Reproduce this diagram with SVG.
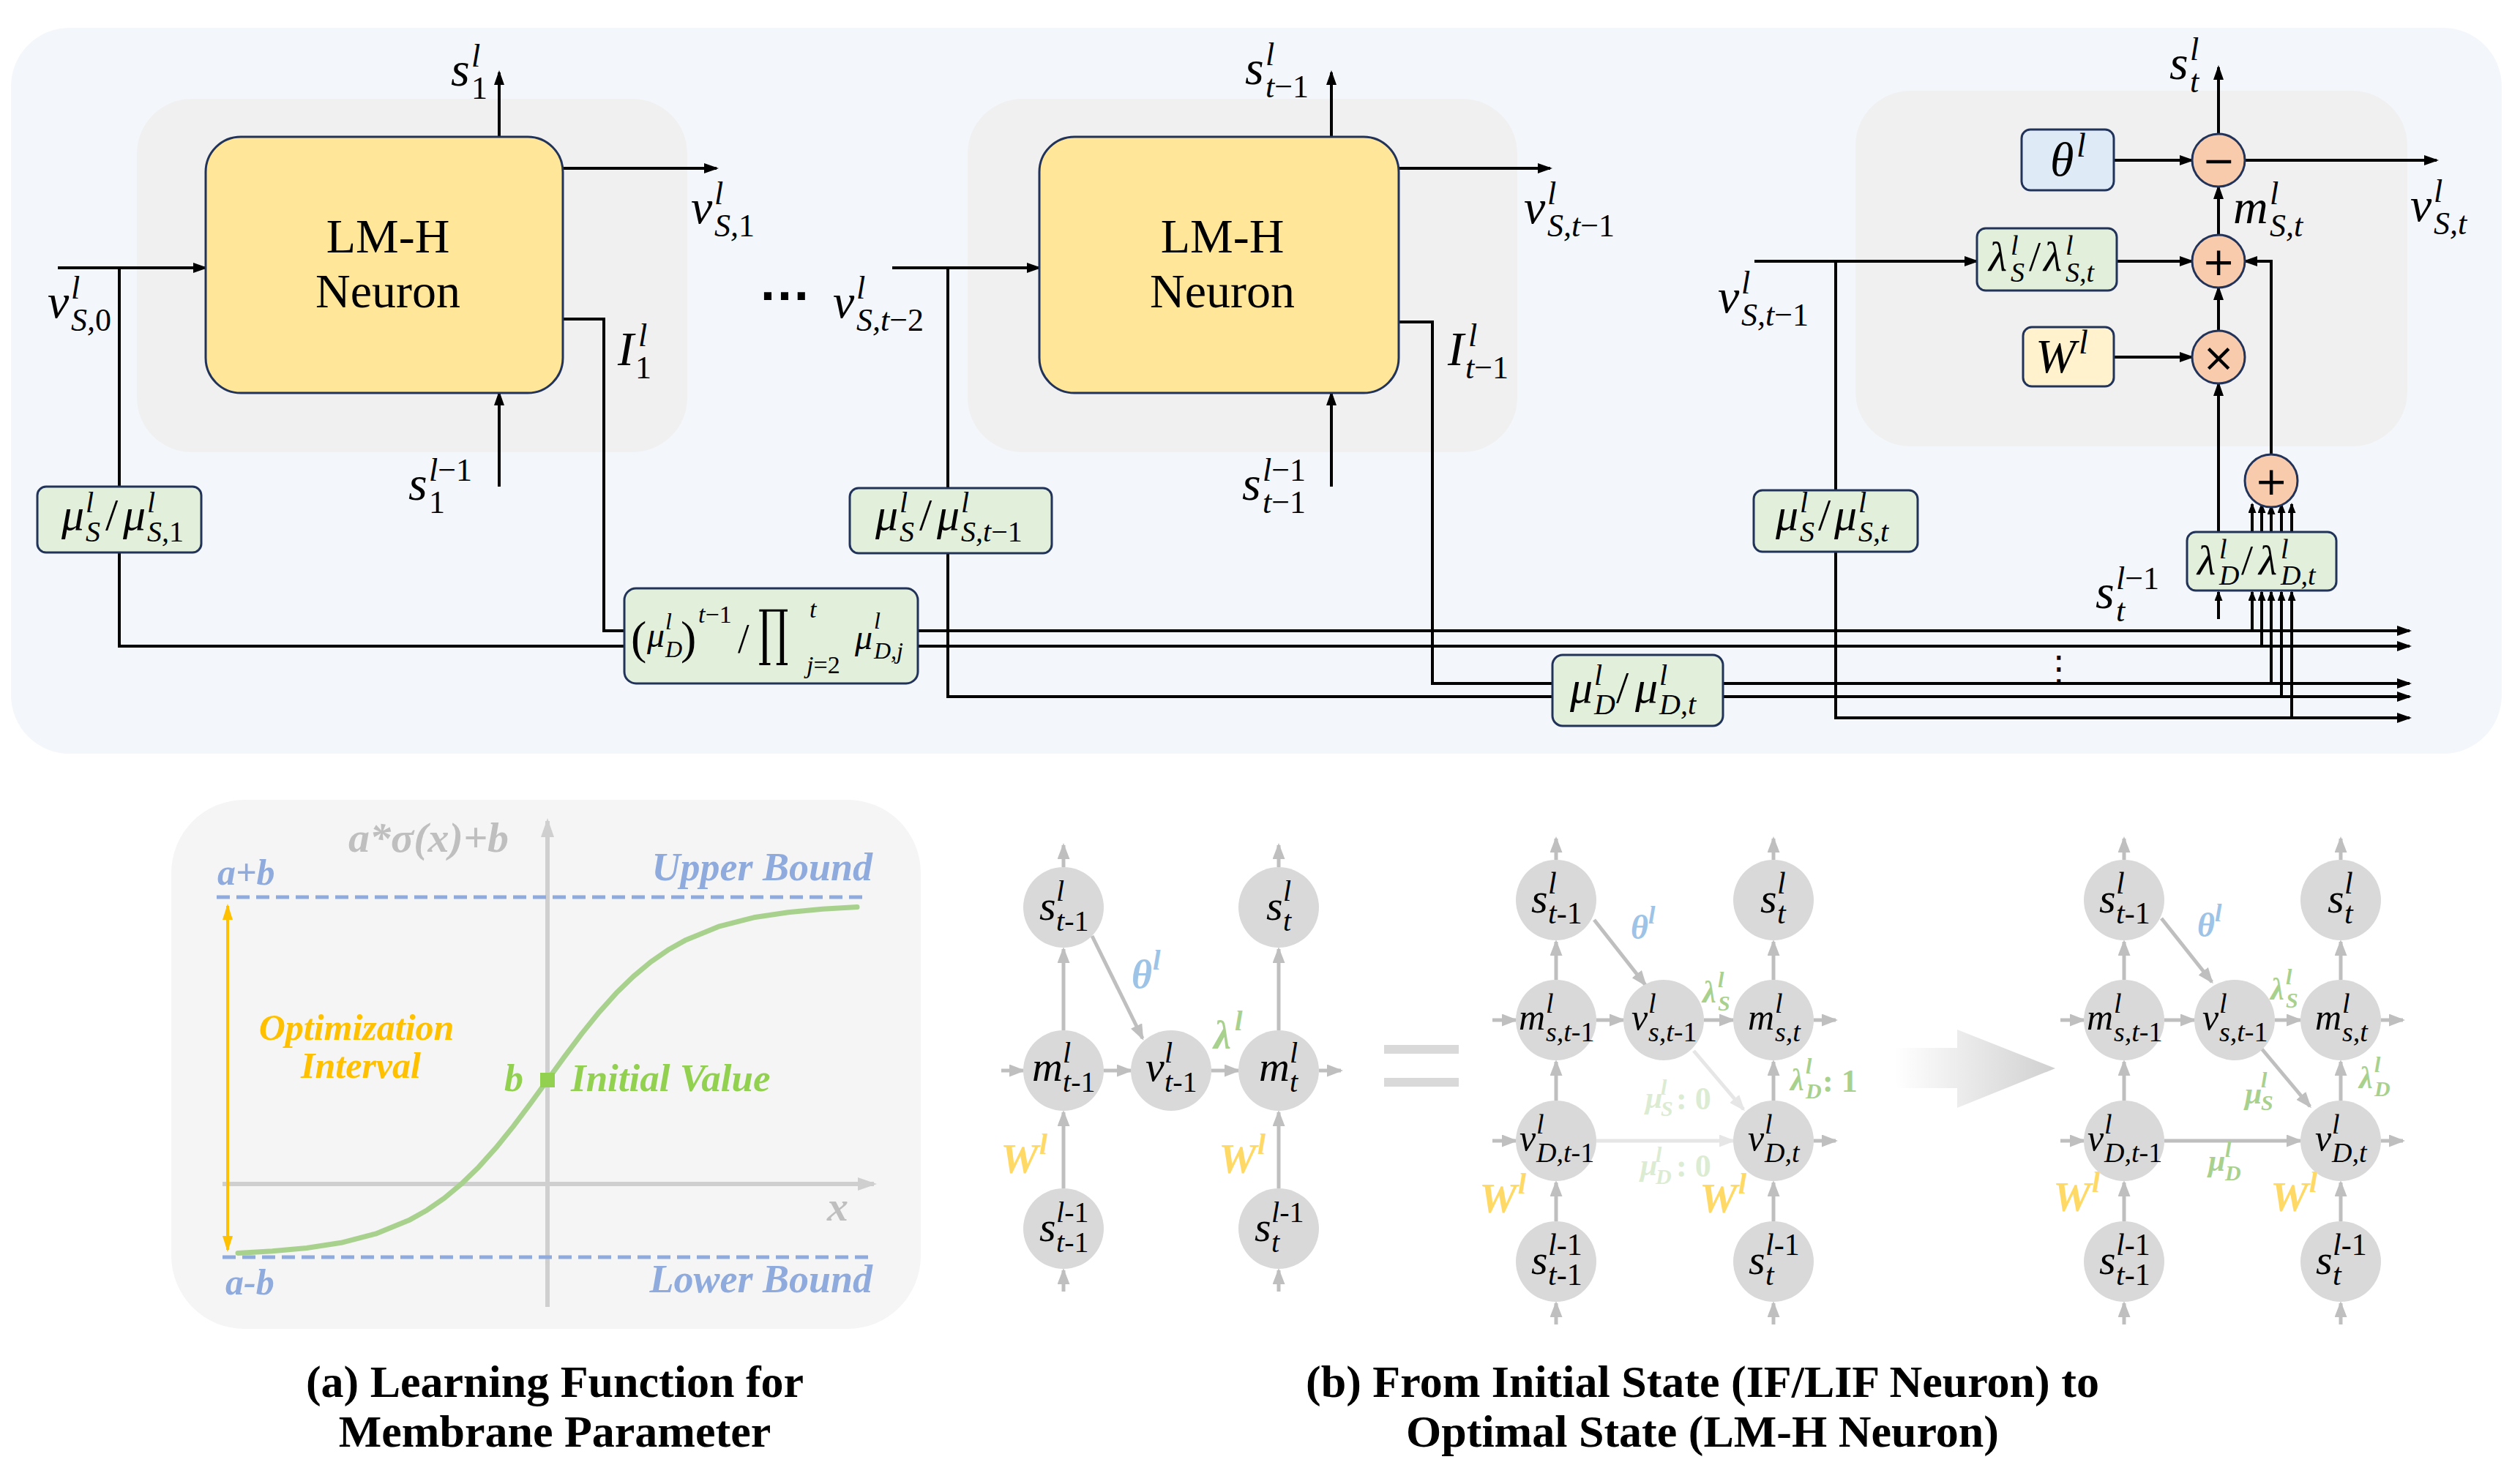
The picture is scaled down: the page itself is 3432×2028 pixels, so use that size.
<svg xmlns="http://www.w3.org/2000/svg" width="3432" height="2028" viewBox="0 0 3432 2028">
<defs>
<style>
.m{font-family:"Liberation Serif",serif;font-style:italic;fill:#000}
.u{font-style:normal}
.ln{stroke:#000;stroke-width:4;fill:none}
.ga{stroke:#bfbfbf;stroke-width:5;fill:none}
.fa{stroke:#e6e6e6;stroke-width:5;fill:none}
.ybox{fill:#ffe699;stroke:#22335a;stroke-width:3}
.gbox{fill:#e2efda;stroke:#22335a;stroke-width:3}
.bbox{fill:#deebf7;stroke:#22335a;stroke-width:3}
.wbox{fill:#fff2cc;stroke:#22335a;stroke-width:3}
.op{fill:#f8cbad;stroke:#22335a;stroke-width:3}
.opt{font-family:"DejaVu Sans",sans-serif;font-size:54px;text-anchor:middle;fill:#000}
.nd{fill:#d9d9d9}
.inner{fill:#f0f0f0}
.cap{font-family:"Liberation Serif",serif;font-weight:bold;font-size:62px;text-anchor:middle;fill:#000}
.ax{stroke:#cfcfcf;stroke-width:6;fill:none}
.ea{font-family:"Liberation Serif",serif;font-style:italic;font-weight:bold}
.lm{font-family:"Liberation Serif",serif;font-size:66px;text-anchor:middle;fill:#000}
.blue{fill:#9dc3e6}
.grn{fill:#a9d18e}
.fgr{fill:#dcecd2}
.yel{fill:#ffd966}
</style>
<marker id="ab" markerUnits="userSpaceOnUse" markerWidth="20" markerHeight="14" viewBox="0 0 20 14" refX="17" refY="7" orient="auto"><path d="M0,0L20,7L0,14z" fill="#000"/></marker>
<marker id="abs" markerUnits="userSpaceOnUse" markerWidth="14" markerHeight="11" viewBox="0 0 14 11" refX="12" refY="5.5" orient="auto"><path d="M0,0L14,5.5L0,11z" fill="#000"/></marker>
<marker id="ag" markerUnits="userSpaceOnUse" markerWidth="22" markerHeight="17" viewBox="0 0 22 17" refX="19" refY="8.5" orient="auto"><path d="M0,0L22,8.5L0,17z" fill="#bfbfbf"/></marker>
<marker id="af" markerUnits="userSpaceOnUse" markerWidth="22" markerHeight="17" viewBox="0 0 22 17" refX="19" refY="8.5" orient="auto"><path d="M0,0L22,8.5L0,17z" fill="#e6e6e6"/></marker>
<marker id="aax" markerUnits="userSpaceOnUse" markerWidth="26" markerHeight="18" viewBox="0 0 26 18" refX="22" refY="9" orient="auto"><path d="M0,0L26,9L0,18z" fill="#cfcfcf"/></marker>
<marker id="ao" markerUnits="userSpaceOnUse" markerWidth="22" markerHeight="14" viewBox="0 0 22 14" refX="19" refY="7" orient="auto-start-reverse"><path d="M0,0L22,7L0,14z" fill="#ffc000"/></marker>
<linearGradient id="gg" x1="2589" y1="0" x2="2808" y2="0" gradientUnits="userSpaceOnUse"><stop offset="0" stop-color="#ffffff"/><stop offset="1" stop-color="#d0d0d0"/></linearGradient>
</defs>

<rect width="3432" height="2028" fill="#ffffff"/>

<!-- top panel backgrounds -->
<g id="top-panel">
<rect x="15" y="38" width="3403" height="992" rx="80" fill="#f3f6fa"/>
<rect class="inner" x="187" y="135" width="752" height="483" rx="75"/>
<rect class="inner" x="1322" y="135" width="751" height="483" rx="75"/>
<rect class="inner" x="2535" y="124" width="754" height="486" rx="75"/>
</g>

<!-- connectors -->
<g id="connectors">
<path class="ln" d="M682,187V99" marker-end="url(#ab)"/>
<path class="ln" d="M769,230H979" marker-end="url(#ab)"/>
<path class="ln" d="M79,366H281" marker-end="url(#ab)"/>
<path class="ln" d="M163,366V665"/>
<path class="ln" d="M163,755V883H853"/>
<path class="ln" d="M769,436H825V862H853"/>
<path class="ln" d="M682,665V537" marker-end="url(#ab)"/>

<path class="ln" d="M1819,187V99" marker-end="url(#ab)"/>
<path class="ln" d="M1911,230H2118" marker-end="url(#ab)"/>
<path class="ln" d="M1219,366H1420" marker-end="url(#ab)"/>
<path class="ln" d="M1295,366V667"/>
<path class="ln" d="M1295,756V952H2121"/>
<path class="ln" d="M1911,440H1957V934H2121"/>
<path class="ln" d="M1819,665V537" marker-end="url(#ab)"/>

<path class="ln" d="M2397,357H2701" marker-end="url(#ab)"/>
<path class="ln" d="M2508,357V670"/>
<path class="ln" d="M2508,754V981H3292" marker-end="url(#ab)"/>
<path class="ln" d="M2892,357H2995" marker-end="url(#ab)"/>
<path class="ln" d="M2888,219H2995" marker-end="url(#ab)"/>
<path class="ln" d="M3031,183V92" marker-end="url(#ab)"/>
<path class="ln" d="M3067,219H3329" marker-end="url(#ab)"/>
<path class="ln" d="M3031,321V255" marker-end="url(#ab)"/>
<path class="ln" d="M2888,488H2995" marker-end="url(#ab)"/>
<path class="ln" d="M3031,452V393" marker-end="url(#ab)"/>
<path class="ln" d="M3031,727V524" marker-end="url(#ab)"/>
<path class="ln" d="M3031,846V809" marker-end="url(#abs)"/>
<path class="ln" d="M3103,620V357H3067" marker-end="url(#ab)"/>
<path class="ln" d="M3077,727V689" marker-end="url(#abs)"/>
<path class="ln" d="M3090,727V689" marker-end="url(#abs)"/>
<path class="ln" d="M3103,727V691" marker-end="url(#abs)"/>
<path class="ln" d="M3117,727V689" marker-end="url(#abs)"/>
<path class="ln" d="M3131,727V689" marker-end="url(#abs)"/>
<path class="ln" d="M3077,862V809" marker-end="url(#abs)"/>
<path class="ln" d="M3090,883V809" marker-end="url(#abs)"/>
<path class="ln" d="M3103,934V809" marker-end="url(#abs)"/>
<path class="ln" d="M3117,952V809" marker-end="url(#abs)"/>
<path class="ln" d="M3131,981V809" marker-end="url(#abs)"/>
<path class="ln" d="M1254,862H3292" marker-end="url(#ab)"/>
<path class="ln" d="M1254,883H3292" marker-end="url(#ab)"/>
<path class="ln" d="M2354,934H3292" marker-end="url(#ab)"/>
<path class="ln" d="M2354,952H3292" marker-end="url(#ab)"/>

<!-- (b) graph 1 -->
<path class="ga" d="M1453,1185V1155" marker-end="url(#ag)"/>
<path class="ga" d="M1747,1185V1155" marker-end="url(#ag)"/>
<path class="ga" d="M1453,1408V1297" marker-end="url(#ag)"/>
<path class="ga" d="M1747,1408V1297" marker-end="url(#ag)"/>
<path class="ga" d="M1453,1624V1520" marker-end="url(#ag)"/>
<path class="ga" d="M1747,1624V1520" marker-end="url(#ag)"/>
<path class="ga" d="M1453,1765V1736" marker-end="url(#ag)"/>
<path class="ga" d="M1747,1765V1736" marker-end="url(#ag)"/>
<path class="ga" d="M1368,1463H1398" marker-end="url(#ag)"/>
<path class="ga" d="M1508,1463H1545" marker-end="url(#ag)"/>
<path class="ga" d="M1655,1463H1692" marker-end="url(#ag)"/>
<path class="ga" d="M1802,1463H1832" marker-end="url(#ag)"/>
<path class="ga" d="M1492,1279L1561,1419" marker-end="url(#ag)"/>

<!-- (b) graph 2 -->
<path class="ga" d="M2126,1175V1146" marker-end="url(#ag)"/>
<path class="ga" d="M2423,1175V1146" marker-end="url(#ag)"/>
<path class="ga" d="M2126,1339V1287" marker-end="url(#ag)"/>
<path class="ga" d="M2423,1339V1287" marker-end="url(#ag)"/>
<path class="ga" d="M2126,1504V1451" marker-end="url(#ag)"/>
<path class="ga" d="M2423,1504V1451" marker-end="url(#ag)"/>
<path class="ga" d="M2126,1669V1616" marker-end="url(#ag)"/>
<path class="ga" d="M2423,1669V1616" marker-end="url(#ag)"/>
<path class="ga" d="M2126,1810V1781" marker-end="url(#ag)"/>
<path class="ga" d="M2423,1810V1781" marker-end="url(#ag)"/>
<path class="ga" d="M2039,1394H2071" marker-end="url(#ag)"/>
<path class="ga" d="M2039,1559H2071" marker-end="url(#ag)"/>
<path class="ga" d="M2181,1394H2218" marker-end="url(#ag)"/>
<path class="ga" d="M2328,1394H2368" marker-end="url(#ag)"/>
<path class="ga" d="M2478,1394H2508" marker-end="url(#ag)"/>
<path class="ga" d="M2478,1559H2508" marker-end="url(#ag)"/>
<path class="ga" d="M2178,1257L2248,1346" marker-end="url(#ag)"/>
<path class="fa" d="M2314,1436L2382,1516" marker-end="url(#af)"/>
<path class="fa" d="M2181,1559H2368" marker-end="url(#af)"/>

<!-- (b) graph 3 -->
<path class="ga" d="M2902,1175V1146" marker-end="url(#ag)"/>
<path class="ga" d="M3198,1175V1146" marker-end="url(#ag)"/>
<path class="ga" d="M2902,1339V1287" marker-end="url(#ag)"/>
<path class="ga" d="M3198,1339V1287" marker-end="url(#ag)"/>
<path class="ga" d="M2902,1504V1451" marker-end="url(#ag)"/>
<path class="ga" d="M3198,1504V1451" marker-end="url(#ag)"/>
<path class="ga" d="M2902,1669V1616" marker-end="url(#ag)"/>
<path class="ga" d="M3198,1669V1616" marker-end="url(#ag)"/>
<path class="ga" d="M2902,1810V1781" marker-end="url(#ag)"/>
<path class="ga" d="M3198,1810V1781" marker-end="url(#ag)"/>
<path class="ga" d="M2815,1394H2847" marker-end="url(#ag)"/>
<path class="ga" d="M2815,1559H2847" marker-end="url(#ag)"/>
<path class="ga" d="M2957,1394H2998" marker-end="url(#ag)"/>
<path class="ga" d="M3108,1394H3143" marker-end="url(#ag)"/>
<path class="ga" d="M3253,1394H3283" marker-end="url(#ag)"/>
<path class="ga" d="M3253,1559H3283" marker-end="url(#ag)"/>
<path class="ga" d="M2953,1255L3022,1342" marker-end="url(#ag)"/>
<path class="ga" d="M3089,1432L3156,1512" marker-end="url(#ag)"/>
<path class="ga" d="M2957,1559H3143" marker-end="url(#ag)"/>
</g>

<!-- neuron 1 -->
<g id="neuron1">
<rect class="ybox" x="281" y="187" width="488" height="350" rx="48"/>
<text class="lm" x="530" y="345">LM-H</text>
<text class="lm" x="530" y="420">Neuron</text>
</g>
<g id="neuron2">
<rect class="ybox" x="1420" y="187" width="491" height="350" rx="48"/>
<text class="lm" x="1670" y="345">LM-H</text>
<text class="lm" x="1670" y="420">Neuron</text>
</g>

<g id="box-muS1">
<rect class="gbox" x="51" y="665" width="224" height="90" rx="12"/>
<text class="m" font-size="62" x="84" y="724">μ<tspan font-size="40" x="117" y="700">l</tspan><tspan font-size="40" x="117" y="740">S</tspan><tspan class="u" x="144" y="724">/</tspan><tspan x="168" y="724">μ</tspan><tspan font-size="40" x="201" y="700">l</tspan><tspan font-size="40" x="201" y="740">S,<tspan class="u">1</tspan></tspan></text>
</g>
<g id="box-muS-t1">
<rect class="gbox" x="1161" y="667" width="276" height="89" rx="12"/>
<text class="m" font-size="62" x="1196" y="724">μ<tspan font-size="40" x="1229" y="700">l</tspan><tspan font-size="40" x="1229" y="740">S</tspan><tspan class="u" x="1256" y="724">/</tspan><tspan x="1280" y="724">μ</tspan><tspan font-size="40" x="1313" y="700">l</tspan><tspan font-size="40" x="1313" y="740">S,t<tspan class="u">−1</tspan></tspan></text>
</g>
<g id="box-muSt">
<rect class="gbox" x="2396" y="670" width="224" height="84" rx="12"/>
<text class="m" font-size="62" x="2426" y="724">μ<tspan font-size="40" x="2459" y="700">l</tspan><tspan font-size="40" x="2459" y="740">S</tspan><tspan class="u" x="2484" y="724">/</tspan><tspan x="2506" y="724">μ</tspan><tspan font-size="40" x="2539" y="700">l</tspan><tspan font-size="40" x="2539" y="740">S,t</tspan></text>
</g>
<g id="box-prod">
<rect class="gbox" x="853" y="804" width="401" height="130" rx="16"/>
<text class="m" font-size="48" x="862" y="893"><tspan class="u" font-size="64">(</tspan><tspan x="884" y="884">μ</tspan><tspan font-size="32" x="909" y="860">l</tspan><tspan font-size="32" x="909" y="898">D</tspan><tspan class="u" font-size="64" x="930" y="893">)</tspan><tspan font-size="34" x="954" y="851">t<tspan class="u">−1</tspan></tspan><tspan class="u" font-size="56" x="1008" y="892">/</tspan></text>
<text font-family="DejaVu Serif, serif" font-size="84" transform="translate(1036,893) scale(0.62,1)">∏</text>
<text class="m" font-size="34" x="1106" y="844">t</text>
<text class="m" font-size="34" x="1102" y="920">j<tspan class="u">=2</tspan></text>
<text class="m" font-size="48" x="1168" y="887">μ<tspan font-size="32" x="1194" y="859">l</tspan><tspan font-size="32" x="1194" y="900">D,j</tspan></text>
</g>
<g id="box-muDt">
<rect class="gbox" x="2121" y="895" width="233" height="97" rx="14"/>
<text class="m" font-size="62" x="2145" y="960">μ<tspan font-size="40" x="2178" y="936">l</tspan><tspan font-size="40" x="2178" y="976">D</tspan><tspan class="u" x="2208" y="960">/</tspan><tspan x="2234" y="960">μ</tspan><tspan font-size="40" x="2267" y="936">l</tspan><tspan font-size="40" x="2267" y="976">D,t</tspan></text>
</g>
<g id="box-theta">
<rect class="bbox" x="2762" y="177" width="126" height="83" rx="12"/>
<text class="m" font-size="66" x="2801" y="240">θ<tspan font-size="46" x="2837" y="214">l</tspan></text>
</g>
<g id="box-W">
<rect class="wbox" x="2764" y="447" width="124" height="81" rx="12"/>
<text class="m" font-size="66" x="2781" y="509">W<tspan font-size="46" x="2840" y="483">l</tspan></text>
</g>
<g id="box-lamS">
<rect class="gbox" x="2701" y="312" width="191" height="85" rx="12"/>
<text class="m" font-size="58" x="2717" y="370">λ<tspan font-size="38" x="2747" y="348">l</tspan><tspan font-size="38" x="2747" y="385">S</tspan><tspan class="u" x="2772" y="370">/</tspan><tspan x="2792" y="370">λ</tspan><tspan font-size="38" x="2822" y="348">l</tspan><tspan font-size="38" x="2822" y="385">S,t</tspan></text>
</g>
<g id="box-lamD">
<rect class="gbox" x="2988" y="727" width="204" height="80" rx="12"/>
<text class="m" font-size="58" x="3002" y="785">λ<tspan font-size="38" x="3032" y="763">l</tspan><tspan font-size="38" x="3032" y="799">D</tspan><tspan class="u" x="3062" y="785">/</tspan><tspan x="3086" y="785">λ</tspan><tspan font-size="38" x="3116" y="763">l</tspan><tspan font-size="38" x="3116" y="799">D,t</tspan></text>
</g>
<g id="op-minus"><circle class="op" cx="3031" cy="219" r="36"/><text class="opt" x="3031" y="238">−</text></g>
<g id="op-plus1"><circle class="op" cx="3031" cy="357" r="36"/><text class="opt" x="3031" y="376">+</text></g>
<g id="op-times"><circle class="op" cx="3031" cy="488" r="36"/><text class="opt" x="3031" y="507">×</text></g>
<g id="op-plus2"><circle class="op" cx="3103" cy="657" r="36"/><text class="opt" x="3103" y="676">+</text></g>

<!-- top free labels -->
<g id="top-labels">
<text class="m" font-size="66" x="616" y="117">s<tspan font-size="44" x="644" y="91">l</tspan><tspan class="u" font-size="44" x="644" y="135">1</tspan></text>
<text class="m" font-size="66" x="944" y="305">v<tspan font-size="44" x="976" y="279">l</tspan><tspan font-size="44" x="976" y="323">S,<tspan class="u">1</tspan></tspan></text>
<text class="m" font-size="66" x="844" y="499">I<tspan font-size="44" x="872" y="473">l</tspan><tspan class="u" font-size="44" x="868" y="517">1</tspan></text>
<text class="m" font-size="66" x="558" y="683">s<tspan font-size="44" x="586" y="657">l<tspan class="u">−1</tspan></tspan><tspan class="u" font-size="44" x="586" y="701">1</tspan></text>
<text class="m" font-size="66" x="65" y="434">v<tspan font-size="44" x="97" y="408">l</tspan><tspan font-size="44" x="97" y="452">S,<tspan class="u">0</tspan></tspan></text>
<text class="m" font-size="66" x="1701" y="115">s<tspan font-size="44" x="1729" y="89">l</tspan><tspan font-size="44" x="1729" y="133">t<tspan class="u">−1</tspan></tspan></text>
<text class="m" font-size="66" x="2082" y="305">v<tspan font-size="44" x="2114" y="279">l</tspan><tspan font-size="44" x="2114" y="323">S,t<tspan class="u">−1</tspan></tspan></text>
<text class="m" font-size="66" x="1138" y="434">v<tspan font-size="44" x="1170" y="408">l</tspan><tspan font-size="44" x="1170" y="452">S,t<tspan class="u">−2</tspan></tspan></text>
<text class="m" font-size="66" x="1978" y="499">I<tspan font-size="44" x="2006" y="473">l</tspan><tspan font-size="44" x="2002" y="517">t<tspan class="u">−1</tspan></tspan></text>
<text class="m" font-size="66" x="1697" y="683">s<tspan font-size="44" x="1725" y="657">l<tspan class="u">−1</tspan></tspan><tspan font-size="44" x="1725" y="701">t<tspan class="u">−1</tspan></tspan></text>
<text class="m" font-size="66" x="2964" y="108">s<tspan font-size="44" x="2992" y="82">l</tspan><tspan font-size="44" x="2992" y="126">t</tspan></text>
<text class="m" font-size="66" x="3293" y="302">v<tspan font-size="44" x="3325" y="276">l</tspan><tspan font-size="44" x="3325" y="320">S,t</tspan></text>
<text class="m" font-size="66" x="3051" y="305">m<tspan font-size="44" x="3101" y="279">l</tspan><tspan font-size="44" x="3101" y="323">S,t</tspan></text>
<text class="m" font-size="66" x="2347" y="427">v<tspan font-size="44" x="2379" y="401">l</tspan><tspan font-size="44" x="2379" y="445">S,t<tspan class="u">−1</tspan></tspan></text>
<text class="m" font-size="66" x="2863" y="831">s<tspan font-size="44" x="2891" y="805">l<tspan class="u">−1</tspan></tspan><tspan font-size="44" x="2891" y="849">t</tspan></text>
<text font-family="Liberation Sans, sans-serif" font-weight="bold" font-size="72" text-anchor="middle" x="1072" y="410">…</text>
<text font-family="DejaVu Sans, sans-serif" font-size="48" text-anchor="middle" x="2813" y="930">⋮</text>
</g>

<!-- (a) learning function -->
<g id="panel-a">
<rect x="234" y="1093" width="1024" height="723" rx="100" fill="#f5f5f5"/>
<line class="ax" x1="748" y1="1786" x2="748" y2="1122" marker-end="url(#aax)"/>
<line class="ax" x1="304" y1="1618" x2="1194" y2="1618" marker-end="url(#aax)"/>
<line x1="296" y1="1226" x2="1181" y2="1226" stroke="#8faadc" stroke-width="5" stroke-dasharray="18 9"/>
<line x1="304" y1="1718" x2="1192" y2="1718" stroke="#8faadc" stroke-width="5" stroke-dasharray="18 9"/>
<line x1="311" y1="1238" x2="311" y2="1708" stroke="#ffc000" stroke-width="4" marker-start="url(#ao)" marker-end="url(#ao)"/>
<polyline fill="none" stroke="#a9d18e" stroke-width="7" stroke-linejoin="round" stroke-linecap="round" points="325,1712.4 372,1709.8 419,1705.5 466,1698.3 513,1686.2 560,1666.9 583.5,1653.7 607,1637.4 630.5,1617.8 654,1594.9 677.5,1568.7 701,1539.6 724.5,1508.4 748,1476 771.5,1443.6 795,1412.4 818.5,1383.3 842,1357.1 865.5,1334.2 889,1314.6 912.5,1298.3 936,1285.1 983,1265.8 1030,1253.8 1077,1246.7 1124,1242.2 1171,1239.6"/>
<rect x="738" y="1466" width="20" height="20" fill="#92d050"/>
<text class="ea" font-size="58" x="476" y="1164" fill="#bfbfbf">a*σ(x)+b</text>
<text class="ea" font-size="50" x="297" y="1209" fill="#8faadc">a+b</text>
<text class="ea" font-size="54" x="1192" y="1203" fill="#8faadc" text-anchor="end">Upper Bound</text>
<text class="ea" font-size="50" x="308" y="1769" fill="#8faadc">a-b</text>
<text class="ea" font-size="54" x="1192" y="1766" fill="#8faadc" text-anchor="end">Lower Bound</text>
<text class="ea" font-size="50" x="487" y="1421" fill="#ffc000" text-anchor="middle">Optimization</text>
<text class="ea" font-size="50" x="493" y="1473" fill="#ffc000" text-anchor="middle">Interval</text>
<text class="ea" font-size="52" x="689" y="1491" fill="#92d050">b</text>
<text class="ea" font-size="53" x="780" y="1491" fill="#92d050">Initial Value</text>
<text class="ea" font-size="58" x="1130" y="1668" fill="#bfbfbf">x</text>
<text class="cap" x="758" y="1909">(a) Learning Function for</text>
<text class="cap" x="758" y="1977">Membrane Parameter</text>
</g>

<!-- (b) graph 1 nodes -->
<g id="g1-s-t1"><circle class="nd" cx="1453" cy="1240" r="55"/><text class="m" font-size="58" x="1420" y="1257">s<tspan font-size="40" x="1443" y="1231">l</tspan><tspan font-size="40" x="1443" y="1272">t<tspan class="u">-1</tspan></tspan></text></g>
<g id="g1-s-t"><circle class="nd" cx="1747" cy="1240" r="55"/><text class="m" font-size="58" x="1730" y="1257">s<tspan font-size="40" x="1753" y="1231">l</tspan><tspan font-size="40" x="1753" y="1272">t</tspan></text></g>
<g id="g1-m-t1"><circle class="nd" cx="1453" cy="1463" r="55"/><text class="m" font-size="58" x="1410" y="1477">m<tspan font-size="40" x="1452" y="1452">l</tspan><tspan font-size="40" x="1452" y="1492">t<tspan class="u">-1</tspan></tspan></text></g>
<g id="g1-v-t1"><circle class="nd" cx="1600" cy="1463" r="55"/><text class="m" font-size="58" x="1565" y="1477">v<tspan font-size="40" x="1591" y="1452">l</tspan><tspan font-size="40" x="1591" y="1492">t<tspan class="u">-1</tspan></tspan></text></g>
<g id="g1-m-t"><circle class="nd" cx="1747" cy="1463" r="55"/><text class="m" font-size="58" x="1720" y="1477">m<tspan font-size="40" x="1762" y="1452">l</tspan><tspan font-size="40" x="1762" y="1492">t</tspan></text></g>
<g id="g1-sp-t1"><circle class="nd" cx="1453" cy="1679" r="55"/><text class="m" font-size="58" x="1420" y="1696">s<tspan font-size="40" x="1443" y="1670">l<tspan class="u">-1</tspan></tspan><tspan font-size="40" x="1443" y="1711">t<tspan class="u">-1</tspan></tspan></text></g>
<g id="g1-sp-t"><circle class="nd" cx="1747" cy="1679" r="55"/><text class="m" font-size="58" x="1714" y="1696">s<tspan font-size="40" x="1737" y="1670">l<tspan class="u">-1</tspan></tspan><tspan font-size="40" x="1737" y="1711">t</tspan></text></g>
<g id="g1-labels">
<text class="ea blue" font-size="54" x="1546" y="1350">θ<tspan font-size="38" x="1575" y="1325">l</tspan></text>
<text class="ea grn" font-size="54" x="1658" y="1433">λ<tspan font-size="38" x="1687" y="1408">l</tspan></text>
<text class="ea yel" font-size="58" x="1367" y="1603">W<tspan font-size="40" x="1420" y="1577">l</tspan></text>
<text class="ea yel" font-size="58" x="1665" y="1603">W<tspan font-size="40" x="1718" y="1577">l</tspan></text>
</g>
<g id="equals">
<rect x="1891" y="1428" width="102" height="12" fill="#d9d9d9"/>
<rect x="1891" y="1473" width="102" height="12" fill="#d9d9d9"/>
</g>

<!-- (b) graph 2 nodes -->
<g id="g2-s-t1"><circle class="nd" cx="2126" cy="1230" r="55"/><text class="m" font-size="58" x="2092" y="1247">s<tspan font-size="42" x="2115" y="1221">l</tspan><tspan font-size="42" x="2115" y="1262">t<tspan class="u">-1</tspan></tspan></text></g>
<g id="g2-s-t"><circle class="nd" cx="2423" cy="1230" r="55"/><text class="m" font-size="58" x="2405" y="1247">s<tspan font-size="42" x="2428" y="1221">l</tspan><tspan font-size="42" x="2428" y="1262">t</tspan></text></g>
<g id="g2-m-t1"><circle class="nd" cx="2126" cy="1394" r="55"/><text class="m" font-size="50" x="2075" y="1407">m<tspan font-size="38" x="2112" y="1384">l</tspan><tspan font-size="38" x="2112" y="1423">s,t<tspan class="u">-1</tspan></tspan></text></g>
<g id="g2-v-t1"><circle class="nd" cx="2273" cy="1394" r="55"/><text class="m" font-size="50" x="2229" y="1407">v<tspan font-size="38" x="2252" y="1384">l</tspan><tspan font-size="38" x="2252" y="1423">s,t<tspan class="u">-1</tspan></tspan></text></g>
<g id="g2-m-t"><circle class="nd" cx="2423" cy="1394" r="55"/><text class="m" font-size="50" x="2388" y="1407">m<tspan font-size="38" x="2425" y="1384">l</tspan><tspan font-size="38" x="2425" y="1423">s,t</tspan></text></g>
<g id="g2-vD-t1"><circle class="nd" cx="2126" cy="1559" r="55"/><text class="m" font-size="50" x="2076" y="1572">v<tspan font-size="38" x="2099" y="1549">l</tspan><tspan font-size="38" x="2099" y="1588">D,t<tspan class="u">-1</tspan></tspan></text></g>
<g id="g2-vD-t"><circle class="nd" cx="2423" cy="1559" r="55"/><text class="m" font-size="50" x="2388" y="1572">v<tspan font-size="38" x="2411" y="1549">l</tspan><tspan font-size="38" x="2411" y="1588">D,t</tspan></text></g>
<g id="g2-sp-t1"><circle class="nd" cx="2126" cy="1724" r="55"/><text class="m" font-size="58" x="2092" y="1741">s<tspan font-size="42" x="2115" y="1715">l<tspan class="u">-1</tspan></tspan><tspan font-size="42" x="2115" y="1756">t<tspan class="u">-1</tspan></tspan></text></g>
<g id="g2-sp-t"><circle class="nd" cx="2423" cy="1724" r="55"/><text class="m" font-size="58" x="2389" y="1741">s<tspan font-size="42" x="2412" y="1715">l<tspan class="u">-1</tspan></tspan><tspan font-size="42" x="2412" y="1756">t</tspan></text></g>
<g id="g2-labels">
<text class="ea blue" font-size="46" x="2228" y="1283">θ<tspan font-size="34" x="2252" y="1262">l</tspan></text>
<text class="ea grn" font-size="42" x="2326" y="1370">λ<tspan font-size="30" x="2347" y="1349">l</tspan><tspan font-size="30" x="2347" y="1381">S</tspan></text>
<text class="ea grn" font-size="42" x="2446" y="1490">λ<tspan font-size="30" x="2467" y="1467">l</tspan><tspan font-size="30" x="2467" y="1501">D</tspan><tspan class="u" font-size="44" x="2490" y="1492">: 1</tspan></text>
<text class="ea fgr" font-size="42" x="2248" y="1514">μ<tspan font-size="30" x="2269" y="1496">l</tspan><tspan font-size="30" x="2269" y="1525">S</tspan><tspan class="u" font-size="44" x="2290" y="1516">: 0</tspan></text>
<text class="ea fgr" font-size="42" x="2241" y="1606">μ<tspan font-size="30" x="2262" y="1588">l</tspan><tspan font-size="30" x="2262" y="1618">D</tspan><tspan class="u" font-size="44" x="2290" y="1608">: 0</tspan></text>
<text class="ea yel" font-size="58" x="2021" y="1657">W<tspan font-size="40" x="2074" y="1631">l</tspan></text>
<text class="ea yel" font-size="58" x="2322" y="1657">W<tspan font-size="40" x="2375" y="1631">l</tspan></text>
</g>

<!-- transition arrow -->
<g id="big-arrow"><polygon points="2589,1432 2674,1432 2674,1407 2808,1460 2674,1514 2674,1487 2589,1487" fill="url(#gg)"/></g>

<!-- (b) graph 3 nodes -->
<g id="g3-s-t1"><circle class="nd" cx="2902" cy="1230" r="55"/><text class="m" font-size="58" x="2868" y="1247">s<tspan font-size="42" x="2891" y="1221">l</tspan><tspan font-size="42" x="2891" y="1262">t<tspan class="u">-1</tspan></tspan></text></g>
<g id="g3-s-t"><circle class="nd" cx="3198" cy="1230" r="55"/><text class="m" font-size="58" x="3180" y="1247">s<tspan font-size="42" x="3203" y="1221">l</tspan><tspan font-size="42" x="3203" y="1262">t</tspan></text></g>
<g id="g3-m-t1"><circle class="nd" cx="2902" cy="1394" r="55"/><text class="m" font-size="50" x="2851" y="1407">m<tspan font-size="38" x="2888" y="1384">l</tspan><tspan font-size="38" x="2888" y="1423">s,t<tspan class="u">-1</tspan></tspan></text></g>
<g id="g3-v-t1"><circle class="nd" cx="3053" cy="1394" r="55"/><text class="m" font-size="50" x="3009" y="1407">v<tspan font-size="38" x="3032" y="1384">l</tspan><tspan font-size="38" x="3032" y="1423">s,t<tspan class="u">-1</tspan></tspan></text></g>
<g id="g3-m-t"><circle class="nd" cx="3198" cy="1394" r="55"/><text class="m" font-size="50" x="3163" y="1407">m<tspan font-size="38" x="3200" y="1384">l</tspan><tspan font-size="38" x="3200" y="1423">s,t</tspan></text></g>
<g id="g3-vD-t1"><circle class="nd" cx="2902" cy="1559" r="55"/><text class="m" font-size="50" x="2852" y="1572">v<tspan font-size="38" x="2875" y="1549">l</tspan><tspan font-size="38" x="2875" y="1588">D,t<tspan class="u">-1</tspan></tspan></text></g>
<g id="g3-vD-t"><circle class="nd" cx="3198" cy="1559" r="55"/><text class="m" font-size="50" x="3163" y="1572">v<tspan font-size="38" x="3186" y="1549">l</tspan><tspan font-size="38" x="3186" y="1588">D,t</tspan></text></g>
<g id="g3-sp-t1"><circle class="nd" cx="2902" cy="1724" r="55"/><text class="m" font-size="58" x="2868" y="1741">s<tspan font-size="42" x="2891" y="1715">l<tspan class="u">-1</tspan></tspan><tspan font-size="42" x="2891" y="1756">t<tspan class="u">-1</tspan></tspan></text></g>
<g id="g3-sp-t"><circle class="nd" cx="3198" cy="1724" r="55"/><text class="m" font-size="58" x="3164" y="1741">s<tspan font-size="42" x="3187" y="1715">l<tspan class="u">-1</tspan></tspan><tspan font-size="42" x="3187" y="1756">t</tspan></text></g>
<g id="g3-labels">
<text class="ea blue" font-size="46" x="3002" y="1280">θ<tspan font-size="34" x="3026" y="1259">l</tspan></text>
<text class="ea grn" font-size="42" x="3102" y="1366">λ<tspan font-size="30" x="3123" y="1345">l</tspan><tspan font-size="30" x="3123" y="1377">S</tspan></text>
<text class="ea grn" font-size="42" x="3223" y="1487">λ<tspan font-size="30" x="3244" y="1465">l</tspan><tspan font-size="30" x="3244" y="1498">D</tspan></text>
<text class="ea grn" font-size="42" x="3067" y="1508">μ<tspan font-size="30" x="3089" y="1486">l</tspan><tspan font-size="30" x="3089" y="1517">S</tspan></text>
<text class="ea grn" font-size="42" x="3017" y="1600">μ<tspan font-size="30" x="3040" y="1581">l</tspan><tspan font-size="30" x="3040" y="1613">D</tspan></text>
<text class="ea yel" font-size="58" x="2805" y="1655">W<tspan font-size="40" x="2858" y="1629">l</tspan></text>
<text class="ea yel" font-size="58" x="3102" y="1655">W<tspan font-size="40" x="3155" y="1629">l</tspan></text>
</g>

<g id="caption-b">
<text class="cap" x="2326" y="1909">(b) From Initial State (IF/LIF Neuron) to</text>
<text class="cap" x="2326" y="1977">Optimal State (LM-H Neuron)</text>
</g>
</svg>
